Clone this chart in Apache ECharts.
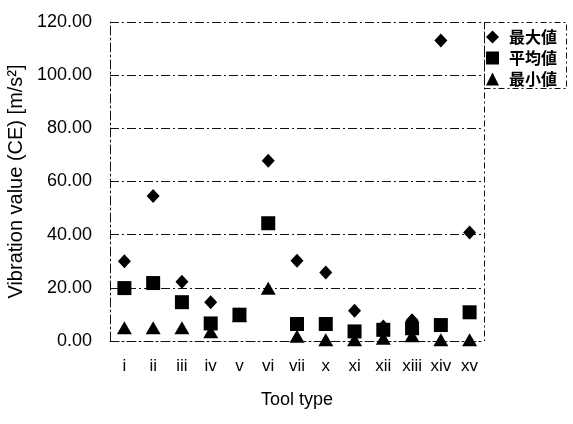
<!DOCTYPE html>
<html>
<head>
<meta charset="utf-8">
<script src="https://cdn.jsdelivr.net/npm/echarts@6/dist/echarts.min.js"></script>
<style>html,body{margin:0;padding:0;background:#fff;}#c{width:573px;height:424px;}</style>
</head>
<body>
<div id="c"></div>
<script>
const categories = ['i','ii','iii','iv','v','vi','vii','x','xi','xii','xiii','xiv','xv'];
const maxValues  = [30, 54.5, 22.3, 14.6, 10, 67.8, 30.2, 25.8, 11.4, 5.5, 7.8, 113, 40.8];
const meanValues = [19.9, 21.8, 14.6, 6.6, 9.9, 44.3, 6.4, 6.4, 3.6, 4.2, 4.8, 6.0, 10.8];
const minValues  = [5, 5, 5, 3.5, 9.5, 19.8, 1.8, 0.5, 0.5, 1.0, 2.0, 0.5, 0.5];
const yTicks = [0, 20, 40, 60, 80, 100, 120];
const seriesNames = ['最大値', '平均値', '最小値'];

const chart = echarts.init(document.getElementById('c'));
const dashStyle = { color: '#111', width: 1, type: [9, 3, 2, 3] };
chart.setOption({
  animation: false,
  backgroundColor: '#fff',
  grid: { left: 110, right: 89, top: 22, bottom: 83, show: false, containLabel: false, outerBoundsMode: 'none' },
  legend: {
    orient: 'vertical',
    left: 481, top: 24,
    itemWidth: 13, itemHeight: 13, itemGap: 5,
    data: [
      { name: seriesNames[0], icon: 'diamond' },
      { name: seriesNames[1], icon: 'rect' },
      { name: seriesNames[2], icon: 'triangle' }
    ],
    itemStyle: { opacity: 1, color: '#000' },
    textStyle: { fontFamily: 'Noto Sans CJK JP', fontWeight: 'bold', fontSize: 16, color: '#000', padding: [0,0,0,5] }
  },
  graphic: [
    { type: 'rect', shape: { x: 484.5, y: 22.5, width: 82, height: 66 },
      style: { fill: 'none', stroke: '#111', lineWidth: 1, lineDash: [6, 3, 2, 3] } },
    { type: 'line', shape: { x1: 484.5, y1: 22.5, x2: 484.5, y2: 341 },
      style: { stroke: '#111', lineWidth: 1, lineDash: [6, 3, 2, 3] } }
  ],
  xAxis: {
    type: 'category',
    data: categories,
    boundaryGap: true,
    axisLine: { show: true, lineStyle: dashStyle },
    axisTick: { show: false },
    axisLabel: { color: '#000', fontSize: 17, fontFamily: 'Liberation Sans', margin: 17 },
    name: 'Tool type',
    nameLocation: 'middle',
    nameGap: 50,
    nameTextStyle: { color: '#000', fontSize: 18, fontFamily: 'Liberation Sans' }
  },
  yAxis: {
    type: 'value',
    min: 0, max: 120, interval: 20,
    axisLine: { show: true, lineStyle: dashStyle },
    axisTick: { show: false },
    splitLine: { show: true, lineStyle: dashStyle },
    axisLabel: {
      color: '#000', fontSize: 18, fontFamily: 'Liberation Sans', margin: 18,
      formatter: v => yTicks.includes(v) ? v.toFixed(2) : ''
    },
    name: 'Vibration value (CE) [m/s²]',
    nameLocation: 'middle',
    nameGap: 74,
    nameTextStyle: { color: '#000', fontSize: 20, fontFamily: 'Liberation Sans' }
  },
  series: [
    { name: seriesNames[0], type: 'scatter', data: maxValues, symbol: 'diamond', symbolSize: [13, 14], itemStyle: { color: '#000', opacity: 1 } },
    { name: seriesNames[1], type: 'scatter', data: meanValues, symbol: 'rect', symbolSize: 14, itemStyle: { color: '#000', opacity: 1 } },
    { name: seriesNames[2], type: 'scatter', data: minValues, symbol: 'triangle', symbolSize: [15, 13], itemStyle: { color: '#000', opacity: 1 } }
  ]
});
</script>
</body>
</html>
